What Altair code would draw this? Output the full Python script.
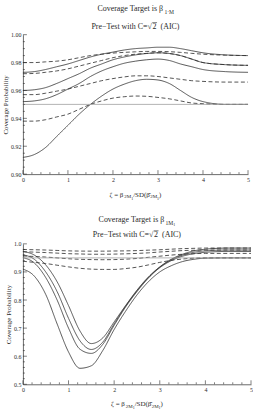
import altair as alt
import pandas as pd
import numpy as np

SERIF = "Liberation Serif"
INK = "#2a2a2a"

# Noncentrality grid shared by every curve
zeta = [0, 0.25, 0.5, 0.75, 1.0, 1.25, 1.5, 1.75, 2.0, 2.25, 2.5, 2.75,
        3.0, 3.25, 3.5, 3.75, 4.0, 4.5, 5.0]

# Upper panel: target beta_{1.M}
top_s1 = [0.973, 0.9735, 0.975, 0.977, 0.979, 0.9815, 0.984, 0.986, 0.9875, 0.989,
          0.990, 0.9905, 0.991, 0.991, 0.990, 0.9885, 0.987, 0.9855, 0.985]
top_s2 = [0.960, 0.9605, 0.962, 0.965, 0.9685, 0.972, 0.976, 0.979, 0.982, 0.984,
          0.9855, 0.9865, 0.987, 0.9865, 0.985, 0.9825, 0.980, 0.9785, 0.978]
top_s3 = [0.952, 0.9525, 0.954, 0.957, 0.961, 0.965, 0.970, 0.974, 0.977, 0.9795,
          0.981, 0.982, 0.9825, 0.9815, 0.979, 0.977, 0.975, 0.9735, 0.973]
top_s4 = [0.912, 0.914, 0.919, 0.927, 0.935, 0.943, 0.950, 0.956, 0.961, 0.9645,
          0.967, 0.968, 0.9675, 0.965, 0.960, 0.955, 0.952, 0.950, 0.950]
top_d1 = [0.980, 0.980, 0.9805, 0.981, 0.982, 0.9835, 0.985, 0.986, 0.9868, 0.9873,
          0.9877, 0.988, 0.988, 0.9878, 0.9873, 0.9866, 0.986, 0.9853, 0.985]
top_d2 = [0.972, 0.9722, 0.973, 0.974, 0.9755, 0.9775, 0.9795, 0.9815, 0.9835, 0.985,
          0.986, 0.9866, 0.987, 0.9865, 0.985, 0.9825, 0.980, 0.9785, 0.978]
top_d3 = [0.957, 0.957, 0.958, 0.9595, 0.961, 0.963, 0.965, 0.967, 0.9685, 0.9697,
          0.9705, 0.9705, 0.970, 0.969, 0.968, 0.967, 0.9665, 0.966, 0.966]
top_d4 = [0.938, 0.938, 0.939, 0.941, 0.943, 0.9465, 0.950, 0.9525, 0.9545, 0.9555,
          0.956, 0.9558, 0.955, 0.954, 0.9525, 0.951, 0.9505, 0.950, 0.950]

# Lower panel: target beta_{1M_1}
bot_s1 = [0.973, 0.960, 0.925, 0.865, 0.780, 0.690, 0.645, 0.665, 0.722, 0.780,
          0.835, 0.882, 0.918, 0.945, 0.963, 0.975, 0.981, 0.985, 0.985]
bot_s2 = [0.961, 0.945, 0.900, 0.830, 0.735, 0.655, 0.624, 0.650, 0.715, 0.778,
          0.833, 0.880, 0.917, 0.943, 0.960, 0.970, 0.975, 0.978, 0.978]
bot_s3 = [0.951, 0.932, 0.880, 0.800, 0.700, 0.625, 0.610, 0.642, 0.710, 0.775,
          0.830, 0.878, 0.915, 0.940, 0.956, 0.965, 0.970, 0.973, 0.973]
bot_s4 = [0.910, 0.885, 0.820, 0.715, 0.615, 0.557, 0.566, 0.620, 0.695, 0.760,
          0.818, 0.865, 0.900, 0.922, 0.937, 0.945, 0.949, 0.950, 0.950]
bot_d1 = [0.980, 0.979, 0.978, 0.9765, 0.975, 0.9743, 0.974, 0.974, 0.9745, 0.975,
          0.976, 0.9775, 0.979, 0.981, 0.983, 0.984, 0.985, 0.985, 0.985]
bot_d2 = [0.972, 0.9705, 0.969, 0.967, 0.965, 0.964, 0.963, 0.963, 0.9635, 0.9645,
          0.966, 0.968, 0.971, 0.9735, 0.976, 0.977, 0.978, 0.978, 0.978]
bot_d3 = [0.957, 0.955, 0.953, 0.950, 0.947, 0.945, 0.944, 0.9435, 0.944, 0.9455,
          0.948, 0.952, 0.956, 0.960, 0.963, 0.965, 0.966, 0.966, 0.966]
bot_d4 = [0.938, 0.934, 0.930, 0.924, 0.918, 0.913, 0.910, 0.909, 0.909, 0.912,
          0.917, 0.925, 0.934, 0.941, 0.946, 0.949, 0.950, 0.950, 0.950]

nominal = [0.95]
x_labels = [0, 1, 2, 3, 4, 5]
top_y_labels = [0.90, 0.92, 0.94, 0.96, 0.98, 1.00]
bot_y_labels = [0.5, 0.6, 0.7, 0.8, 0.9, 1.0]

# Approximate Times advance widths (per 1000 em) for laying out sub/superscripts
ADV = {' ': 250, 'C': 667, 'o': 500, 'v': 500, 'e': 444, 'r': 333,
       'a': 444, 'g': 500, 'T': 611, 't': 278, 'i': 278, 's': 389, 'β': 549,
       'ζ': 494, '=': 564, '/': 278, 'S': 556, 'D': 722, '(': 333, ')': 333,
       '1': 500, '2': 500, 'M': 889, '·': 250, 'P': 556, 'w': 722, 'h': 500,
       'A': 722, 'I': 333, '\u2212': 564, '\u221a': 549}


def text_width(s, size):
    return sum(ADV.get(ch, 500) for ch in s if not ('\u0300' <= ch <= '\u036f')) / 1000 * size


def rich_text(pieces, cx, y):
    """Lay out (text, size, dy) runs left to right, centred on cx, baseline y.
    Runs made only of spaces just advance the pen."""
    total = sum(text_width(t, s) for t, s, _ in pieces)
    x = cx - total / 2
    layers, spans = [], []
    for t, s, dy in pieces:
        w = text_width(t, s)
        if t.strip():
            layers.append(
                alt.Chart(pd.DataFrame({"s": [t]}))
                .mark_text(align="left", baseline="alphabetic", font=SERIF, fontSize=s, color=INK)
                .encode(x=alt.value(x), y=alt.value(y + dy), text="s:N")
            )
        spans.append((x, w))
        x += w
    return layers, spans


def panel(solid, dashed, y_dom, y_vals, y_fmt, y_major, y_minor, W, H, head, xlab):
    rows = []
    for i, ser in enumerate(solid):
        for z, v in zip(zeta, ser):
            rows.append({"zeta": z, "cov": v, "curve": f"s{i}", "kind": "solid"})
    for i, ser in enumerate(dashed):
        for z, v in zip(zeta, ser):
            rows.append({"zeta": z, "cov": v, "curve": f"d{i}", "kind": "dashed"})
    df = pd.DataFrame(rows)

    xs = alt.Scale(domain=[0, 5], nice=False, zero=False)
    ys = alt.Scale(domain=y_dom, nice=False, zero=False)
    x_axis = alt.Axis(values=x_labels, format="d", title=None, labelFlush=False,
                      labelOverlap=False)
    y_axis = alt.Axis(values=y_vals, format=y_fmt, title="Coverage Probability",
                      labelOverlap=False, labelFlush=False)

    def X(f):
        return alt.X(f, scale=xs, axis=x_axis, title=None)

    def Y(f):
        return alt.Y(f, scale=ys, axis=y_axis, title="Coverage Probability")

    lines = alt.Chart(df).mark_line(strokeWidth=0.8, color=INK, interpolate="monotone").encode(
        x=X("zeta:Q"),
        y=Y("cov:Q"),
        detail="curve:N",
        strokeDash=alt.StrokeDash("kind:N", scale=alt.Scale(domain=["solid", "dashed"],
                                                            range=[[1, 0], [4, 2.5]]),
                                  legend=None),
    )

    ref = alt.Chart(pd.DataFrame({"cov": nominal})).mark_rule(
        color="#a0a0a0", strokeWidth=0.8
    ).encode(y=Y("cov:Q"))

    # Inward-pointing tick marks, long on labelled values and short in between
    x_minor = [round(v, 1) for v in np.arange(0, 5.01, 0.2) if abs(v - round(v)) > 1e-6]
    tick = dict(color=INK, strokeWidth=0.6)
    xt_major = alt.Chart(pd.DataFrame({"t": x_labels})).mark_rule(**tick).encode(
        x=X("t:Q"), y=alt.value(H), y2=alt.value(H - 4))
    xt_minor = alt.Chart(pd.DataFrame({"t": x_minor})).mark_rule(**tick).encode(
        x=X("t:Q"), y=alt.value(H), y2=alt.value(H - 2))
    yt_major = alt.Chart(pd.DataFrame({"t": y_major})).mark_rule(**tick).encode(
        y=Y("t:Q"), x=alt.value(0), x2=alt.value(4))
    yt_minor = alt.Chart(pd.DataFrame({"t": y_minor})).mark_rule(**tick).encode(
        y=Y("t:Q"), x=alt.value(0), x2=alt.value(2))

    texts = []
    lay, _ = rich_text(head[0], W / 2, head[1])
    texts += lay
    lay, spans = rich_text([("Pre\u2212Test with C=\u221a", 8, 0), ("2", 8, 0),
                            ("  ", 8, 0), ("(AIC)", 8, 0)], W / 2, head[2])
    texts += lay
    # vinculum of the square root over the "2"
    x0, w = spans[1]
    texts.append(
        alt.Chart(pd.DataFrame({"s": [0]})).mark_rule(color=INK, strokeWidth=0.6).encode(
            x=alt.value(x0 - 0.3), x2=alt.value(x0 + w + 0.5),
            y=alt.value(head[2] - 6.6))
    )
    lay, _ = rich_text(xlab[0], W / 2, xlab[1])
    texts += lay

    return alt.layer(lines, ref, xt_major, xt_minor, yt_major, yt_minor, *texts).properties(
        width=W, height=H)


xlab_pieces = [("ζ = β", 7, 0), ("2M", 5, 1.8), ("1", 4, 3), ("/SD(", 7, 0),
               ("β\u0302", 7, 0), ("2M", 5, 1.8), ("1", 4, 3), (")", 7, 0)]

top = panel(
    [top_s1, top_s2, top_s3, top_s4], [top_d1, top_d2, top_d3, top_d4],
    [0.90, 1.00], top_y_labels, ".2f",
    top_y_labels,
    [round(v, 3) for v in np.arange(0.90, 1.0001, 0.005) if round(v, 3) not in top_y_labels],
    226, 140,
    ([("Coverage Target is β", 8, 0), ("1·M", 5.6, 2.5)], -23.5, -5.5),
    (xlab_pieces, 162.5),
)

bottom = panel(
    [bot_s1, bot_s2, bot_s3, bot_s4], [bot_d1, bot_d2, bot_d3, bot_d4],
    [0.5, 1.0], bot_y_labels, ".1f",
    bot_y_labels,
    [round(v, 2) for v in np.arange(0.5, 1.0001, 0.02) if round(v, 2) not in bot_y_labels],
    229, 141,
    ([("Coverage Target is β", 8, 0), ("1M", 5.6, 2.5), ("1", 4, 4)], -21.5, -6.5),
    (xlab_pieces, 162.5),
)

chart = alt.vconcat(top, bottom, spacing=15).properties(
    padding={"left": 1, "top": 4, "right": 0, "bottom": 0},
    background="white",
).configure_view(stroke=None).configure_axis(
    grid=False, ticks=False, domainColor="#444", domainWidth=0.8,
    labelFont=SERIF, labelFontSize=6, labelColor=INK, labelPadding=2,
    titleFont=SERIF, titleFontSize=7, titleFontWeight="normal", titleColor=INK,
    titlePadding=2,
)

chart.save("out.html", embed_options={"renderer": "svg", "actions": False})
